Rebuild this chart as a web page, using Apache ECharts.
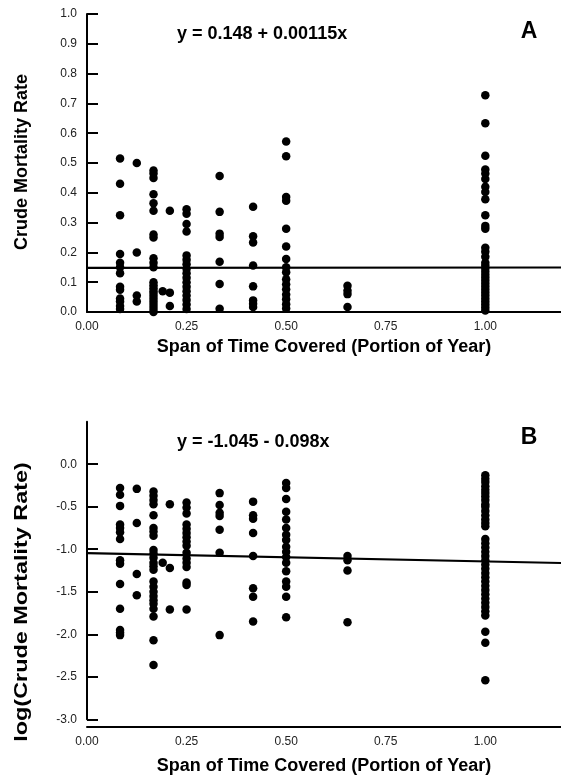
<!DOCTYPE html>
<html>
<head>
<meta charset="utf-8">
<script src="https://cdn.jsdelivr.net/npm/echarts@6/dist/echarts.min.js"></script>
<style>
html,body{margin:0;padding:0;background:#fff;}
#chart{width:561px;height:778px;}
</style>
</head>
<body>
<div id="chart"></div>
<script>
// ---- Data ----
const spanX = [0.083, 0.125, 0.167, 0.19, 0.208, 0.25, 0.333, 0.417, 0.5, 0.654, 1.0];

// Panel A: crude mortality rate, one list per span column
const rateA = [
  [0.515, 0.43, 0.325, 0.195, 0.165, 0.15, 0.13, 0.085, 0.075, 0.045, 0.035, 0.02, 0.01],
  [0.5, 0.2, 0.055, 0.035],
  [0.475, 0.465, 0.45, 0.395, 0.365, 0.34, 0.26, 0.25, 0.18, 0.165, 0.15, 0.1, 0.09, 0.08, 0.07, 0.06, 0.05, 0.04, 0.03, 0.02, 0.01, 0.0],
  [0.07],
  [0.34, 0.065, 0.02],
  [0.345, 0.33, 0.295, 0.27, 0.19, 0.175, 0.16, 0.145, 0.13, 0.115, 0.1, 0.085, 0.07, 0.055, 0.04, 0.025, 0.01],
  [0.456, 0.336, 0.263, 0.252, 0.169, 0.094, 0.011],
  [0.353, 0.254, 0.233, 0.156, 0.086, 0.039, 0.028, 0.017],
  [0.572, 0.523, 0.386, 0.373, 0.279, 0.22, 0.178, 0.15, 0.133, 0.11, 0.093, 0.076, 0.059, 0.043, 0.026, 0.012],
  [0.088, 0.072, 0.06, 0.017],
  [0.727, 0.633, 0.524, 0.478, 0.465, 0.446, 0.42, 0.403, 0.378, 0.325, 0.289, 0.279, 0.216, 0.202, 0.185,
   0.165, 0.155, 0.145, 0.135, 0.125, 0.115, 0.105, 0.095, 0.085, 0.075, 0.065, 0.055, 0.045, 0.035, 0.025, 0.015, 0.005]
];

// Panel B: log(crude mortality rate), one list per span column
const logRateB = [
  [-0.28, -0.36, -0.49, -0.71, -0.75, -0.8, -0.88, -1.13, -1.17, -1.41, -1.70, -1.95, -1.98, -2.01],
  [-0.29, -0.69, -1.29, -1.54],
  [-0.32, -0.37, -0.42, -0.47, -0.6, -0.75, -0.79, -0.84, -1.01, -1.05, -1.1, -1.16, -1.2, -1.24, -1.38, -1.44, -1.5, -1.55, -1.6, -1.64, -1.7, -1.79, -2.07, -2.36],
  [-1.16],
  [-0.47, -1.22, -1.71],
  [-0.45, -0.51, -0.58, -0.71, -0.76, -0.81, -0.86, -0.91, -0.96, -1.04, -1.11, -1.16, -1.21, -1.39, -1.42, -1.71],
  [-0.34, -0.48, -0.57, -0.61, -0.77, -1.04, -2.01],
  [-0.44, -0.6, -0.64, -0.81, -1.08, -1.46, -1.56, -1.85],
  [-0.22, -0.28, -0.41, -0.56, -0.65, -0.75, -0.83, -0.89, -0.97, -1.03, -1.09, -1.16, -1.26, -1.38, -1.44, -1.56, -1.8],
  [-1.08, -1.13, -1.25, -1.86],
  [-0.13, -0.17, -0.21, -0.26, -0.3, -0.34, -0.38, -0.42, -0.47, -0.5, -0.55, -0.6, -0.65, -0.69, -0.73,
   -0.88, -0.93, -0.98, -1.03, -1.08, -1.13, -1.18, -1.23, -1.28, -1.33, -1.38, -1.43, -1.48, -1.53, -1.58,
   -1.63, -1.68, -1.73, -1.78, -1.97, -2.1, -2.54]
];

// Regression lines: [intercept, slope]
const fitA = [0.148, 0.00115];
const fitB = [-1.045, -0.098];

// Tick labels
const xTicks = [0.00, 0.25, 0.50, 0.75, 1.00];
const yTicksA = [0.0, 0.1, 0.2, 0.3, 0.4, 0.5, 0.6, 0.7, 0.8, 0.9, 1.0];
const yTicksB = [-3.0, -2.5, -2.0, -1.5, -1.0, -0.5, 0.0];

// Texts
const xName = 'Span of Time Covered (Portion of Year)';
const yNameA = 'Crude Mortality Rate';
const yNameB = 'log(Crude Mortality Rate)';
const eqA = 'y = 0.148 + 0.00115x';
const eqB = 'y = -1.045 - 0.098x';

// ---- Build ----
const XMAX = 1.19;
function pairs(cols, vals) {
  const out = [];
  cols.forEach((x, i) => vals[i].forEach(v => out.push([x, v])));
  return out;
}
function fitLine(f) {
  return [[0, f[0]], [XMAX, f[0] + f[1] * XMAX]];
}

const FONT = "'Liberation Sans', Arial, sans-serif";
const axisLineStyle = { color: '#000', width: 2 };

function xAxisCfg(gridIndex, offset, nameGap) {
  return {
    type: 'value', gridIndex, min: 0, max: XMAX, offset,
    name: xName, nameLocation: 'middle', nameGap,
    nameTextStyle: { fontFamily: FONT, fontSize: 18, fontWeight: 'bold', color: '#000' },
    axisLine: { show: true, onZero: false, lineStyle: axisLineStyle },
    axisTick: { show: false },
    splitLine: { show: false },
    axisLabel: {
      customValues: xTicks, margin: 9, fontFamily: FONT, fontSize: 12, color: '#222',
      formatter: v => v.toFixed(2)
    }
  };
}
function yAxisCfg(gridIndex, min, max, ticks) {
  return {
    type: 'value', gridIndex, min, max,
    axisLine: { show: true, onZero: false, lineStyle: axisLineStyle },
    axisTick: { show: true, inside: true, length: 11, customValues: ticks, lineStyle: { color: '#000', width: 2 } },
    splitLine: { show: false },
    axisLabel: {
      customValues: ticks, margin: 10, fontFamily: FONT, fontSize: 12, color: '#222',
      formatter: v => v.toFixed(1)
    }
  };
}

const dotStyle = { color: '#000', opacity: 1 };

const option = {
  animation: false,
  backgroundColor: '#fff',
  grid: [
    { left: 87, right: 0, top: 14, height: 298, outerBoundsMode: 'none' },
    { left: 87, right: 0, top: 421.7, height: 297.6, outerBoundsMode: 'none' }
  ],
  xAxis: [xAxisCfg(0, 0, 26), xAxisCfg(1, 7, 31)],
  yAxis: [yAxisCfg(0, 0, 1, yTicksA), yAxisCfg(1, -3, 0.5, yTicksB)],
  series: [
    { type: 'scatter', xAxisIndex: 0, yAxisIndex: 0, data: pairs(spanX, rateA),
      symbol: 'circle', symbolSize: 8.5, itemStyle: dotStyle, z: 3 },
    { type: 'line', xAxisIndex: 0, yAxisIndex: 0, data: fitLine(fitA),
      showSymbol: false, lineStyle: { color: '#000', width: 2.2 }, z: 2 },
    { type: 'scatter', xAxisIndex: 1, yAxisIndex: 1, data: pairs(spanX, logRateB),
      symbol: 'circle', symbolSize: 8.5, itemStyle: dotStyle, z: 3 },
    { type: 'line', xAxisIndex: 1, yAxisIndex: 1, data: fitLine(fitB),
      showSymbol: false, lineStyle: { color: '#000', width: 2.2 }, z: 2 }
  ],
  graphic: [
    { type: 'text', x: 177, y: 34, style: { text: eqA, font: "bold 18px 'Liberation Sans', Arial", fill: '#000', verticalAlign: 'middle' } },
    { type: 'text', x: 529, y: 32, style: { text: 'A', font: "bold 23px 'Liberation Sans', Arial", fill: '#000', align: 'center', verticalAlign: 'middle' } },
    { type: 'text', x: 177, y: 442, style: { text: eqB, font: "bold 18px 'Liberation Sans', Arial", fill: '#000', verticalAlign: 'middle' } },
    { type: 'text', x: 529, y: 438, style: { text: 'B', font: "bold 23px 'Liberation Sans', Arial", fill: '#000', align: 'center', verticalAlign: 'middle' } },
    { type: 'text', x: 22, y: 162, rotation: Math.PI / 2,
      style: { text: yNameA, font: "bold 18px 'Liberation Sans', Arial", fill: '#000', align: 'center', verticalAlign: 'middle' } },
    { type: 'text', x: 22.5, y: 602, rotation: Math.PI / 2, scaleX: 1.3,
      style: { text: yNameB, font: "bold 18px 'Liberation Sans', Arial", fill: '#000', align: 'center', verticalAlign: 'middle' } }
  ]
};

const chart = echarts.init(document.getElementById('chart'), null, { renderer: 'canvas' });
chart.setOption(option);
</script>
</body>
</html>
